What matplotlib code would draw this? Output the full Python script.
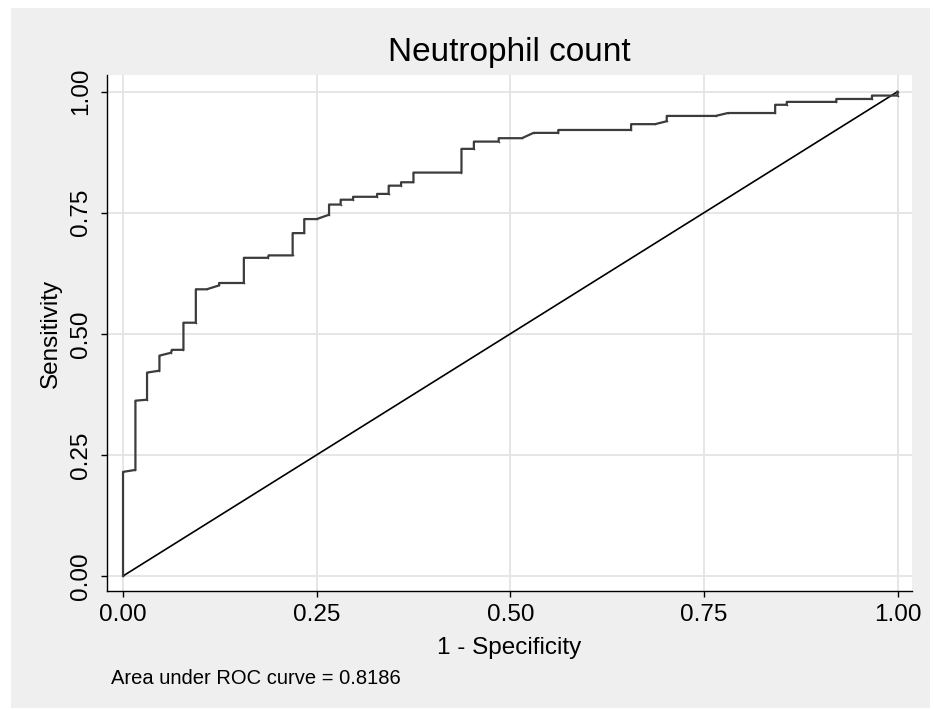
import matplotlib
matplotlib.use("Agg")
import matplotlib.pyplot as plt
from matplotlib.patches import Rectangle

plt.rcParams['font.family'] = ['Liberation Sans', 'DejaVu Sans']

# ROC curve vertices (1 - specificity, sensitivity)
fpr = [0.0, 0.0, 0.016, 0.016, 0.031, 0.031, 0.047, 0.047, 0.062, 0.063, 0.078,
       0.078, 0.094, 0.094, 0.108, 0.124, 0.124, 0.156, 0.156, 0.187, 0.188,
       0.219, 0.219, 0.234, 0.234, 0.250, 0.266, 0.266, 0.281, 0.281, 0.297,
       0.297, 0.328, 0.328, 0.343, 0.343, 0.359, 0.359, 0.375, 0.375, 0.437,
       0.437, 0.453, 0.453, 0.485, 0.485, 0.515, 0.530, 0.562, 0.562, 0.656,
       0.656, 0.687, 0.702, 0.702, 0.765, 0.781, 0.842, 0.842, 0.857, 0.857,
       0.921, 0.921, 0.967, 0.967, 1.0, 1.0]
tpr = [0.0, 0.215, 0.219, 0.362, 0.364, 0.420, 0.424, 0.455, 0.461, 0.467, 0.467,
       0.523, 0.523, 0.592, 0.592, 0.600, 0.605, 0.605, 0.657, 0.657, 0.662,
       0.662, 0.708, 0.708, 0.737, 0.737, 0.746, 0.767, 0.767, 0.777, 0.777,
       0.783, 0.783, 0.789, 0.789, 0.806, 0.806, 0.813, 0.813, 0.833, 0.833,
       0.882, 0.882, 0.897, 0.897, 0.904, 0.904, 0.915, 0.915, 0.921, 0.921,
       0.933, 0.933, 0.939, 0.950, 0.950, 0.956, 0.956, 0.973, 0.973, 0.979,
       0.979, 0.985, 0.985, 0.992, 0.992, 1.0]

ref_x = [0.0, 1.0]
ref_y = [0.0, 1.0]

ticks = [0.0, 0.25, 0.5, 0.75, 1.0]
tick_labels = ["0.00", "0.25", "0.50", "0.75", "1.00"]

title = "Neutrophil count"
xlabel = "1 - Specificity"
ylabel = "Sensitivity"
note = "Area under ROC curve = 0.8186"

W, H = 934, 710
fig = plt.figure(figsize=(W / 100, H / 100), dpi=100, facecolor="white")
fig.add_artist(Rectangle((11 / W, 2 / H), 919 / W, 700 / H, transform=fig.transFigure,
                         facecolor="#efefef", edgecolor="none", zorder=-10))

ax = fig.add_axes([107 / W, 1 - 591 / H, (912 - 107) / W, (591 - 75) / H])
ax.set_facecolor("white")

ax.set_xlim(-0.0207, 1.0187)
ax.set_ylim(-0.031, 1.0345)

ax.grid(True, color="#e4e4e4", linewidth=1.3)
ax.set_axisbelow(True)

ax.plot(fpr, tpr, color="#3c3c3c", linewidth=1.6, marker="o", markersize=1.2,
        markerfacecolor="#3c3c3c", markeredgewidth=0, zorder=3)
ax.plot(ref_x, ref_y, color="black", linewidth=1.2, zorder=2)

ax.set_xticks(ticks)
ax.set_xticklabels(tick_labels)
ax.set_yticks(ticks)
ax.set_yticklabels(tick_labels, rotation=90, va="center")

for s in ["top", "right"]:
    ax.spines[s].set_visible(False)
for s in ["left", "bottom"]:
    ax.spines[s].set_color("black")
    ax.spines[s].set_linewidth(1.0)

ax.tick_params(axis="both", direction="out", length=4.5, width=1.0, color="black",
               labelsize=17.5)
ax.tick_params(axis="x", pad=5)
ax.tick_params(axis="y", pad=6)

ax.set_xlabel(xlabel, fontsize=17.5, labelpad=8)
ax.set_ylabel(ylabel, fontsize=17.5, labelpad=6)
ax.set_title(title, fontsize=24, pad=10)

fig.text(111 / W, 1 - 678 / H, note, fontsize=14.5, ha="left", va="center")

fig.savefig("out.png", dpi=100, facecolor="white")
